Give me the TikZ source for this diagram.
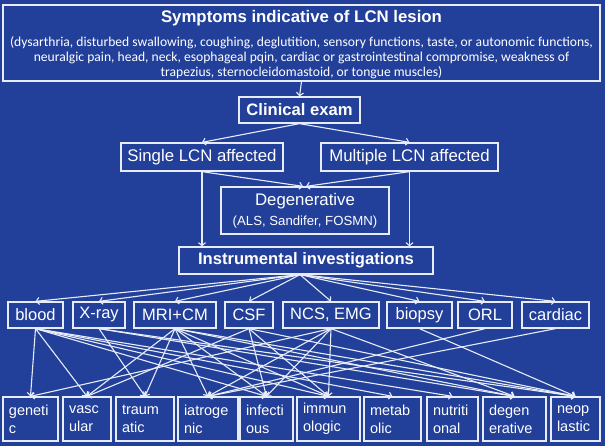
\documentclass[tikz,border=0pt]{standalone}
\usepackage{fontspec}
\setmainfont{Liberation Sans}
\newfontfamily\calibri{Carlito}
\usetikzlibrary{arrows.meta,positioning}
\definecolor{slideblue}{RGB}{34,64,154}
\definecolor{linewhite}{RGB}{232,236,248}

\begin{document}
\begin{tikzpicture}[
    x=1pt, y=-1pt,
    >={Straight Barb[length=3pt,width=7pt]},
    every node/.style={text=white},
    base/.style={rectangle, draw=linewhite, line width=1.3pt, inner sep=0pt, align=center},
    head/.style={base, font=\fontsize{16.6}{19}\selectfont\bfseries},
    box/.style={base, font=\fontsize{16.8}{19}\selectfont},
    test/.style={base, minimum height=26pt, font=\fontsize{16.5}{19}\selectfont},
    cause/.style={base, minimum height=44pt, align=left, inner xsep=6pt, font=\fontsize{14.5}{18}\selectfont},
    dep/.style={->, linewhite, line width=1.1pt}
  ]

  \fill[slideblue] (0,0) rectangle (605,446);
  \useasboundingbox (0,0) rectangle (605,446);

  % top of the chart
  \node (symptoms)   [base, minimum width=597pt, minimum height=76pt] at (301.5,43) {};
  \node (symtitle)   [font=\fontsize{16.8}{19}\selectfont\bfseries] at (301.5,18)
                                                         {Symptoms indicative of LCN lesion};
  \node (symlist)    [align=center, font=\calibri\fontsize{13.6}{15}\selectfont] at (301.5,58)
                                                         {(dysarthria, disturbed swallowing, coughing, deglutition, sensory functions, taste, or autonomic functions,\\
                                                          neuralgic pain, head, neck, esophageal pqin, cardiac or gastrointestinal compromise, weakness of\\
                                                          trapezius, sternocleidomastoid, or tongue muscles)};

  \node (clinical)   [head, minimum width=121pt, minimum height=26pt] at (299.5,110) {Clinical exam};

  \node (single)     [box, minimum width=162pt, minimum height=28pt] at (202,157)    {Single LCN affected};
  \node (multiple)   [box, minimum width=177pt, minimum height=28pt] at (409.5,157)  {Multiple LCN affected};

  \node (degen)      [box, minimum width=168pt, minimum height=47pt] at (305,210.5)
                                                         {Degenerative\\[1pt]
                                                          {\fontsize{13.2}{15}\selectfont (ALS, Sandifer, FOSMN)}};

  \node (instr)      [head, minimum width=254pt, minimum height=27pt] at (306,260.5) {Instrumental investigations};
  \coordinate (fan) at ([xshift=-6pt]instr.south);

  % investigations
  \node (blood)      [test, minimum width=55pt] at (35.5,315)  {blood};
  \node (xray)       [test, minimum width=52pt] at (99,315)    {X-ray};
  \node (mri)        [test, minimum width=82pt] at (175,315)   {MRI+CM};
  \node (csf)        [test, minimum width=48pt] at (249,315)   {CSF};
  \node (ncs)        [test, minimum width=96pt] at (331,315)   {NCS, EMG};
  \node (biopsy)     [test, minimum width=65pt] at (419.5,315) {biopsy};
  \node (orl)        [test, minimum width=54pt] at (485,315)   {ORL};
  \node (cardiac)    [test, minimum width=67pt] at (555.5,315) {cardiac};

  % causes
  \node (genetic)    [cause, text width=43pt] at (30.5,419)  {geneti\\c};
  \node (vascular)   [cause, text width=36pt] at (87,419)    {vasc\\ular};
  \node (traumatic)  [cause, text width=46pt] at (145,419)   {traum\\atic};
  \node (iatrogenic) [cause, text width=48pt] at (208,419)   {iatroge\\nic};
  \node (infectious) [cause, text width=41pt] at (266.5,419) {infecti\\ous};
  \node (immuno)     [cause, text width=51pt] at (328.5,419) {immun\\ologic};
  \node (metabolic)  [cause, text width=45pt] at (392.5,419) {metab\\olic};
  \node (nutrition)  [cause, text width=39pt] at (452.5,419) {nutriti\\onal};
  \node (degenerate) [cause, text width=51pt] at (514.5,419) {degen\\erative};
  \node (neoplastic) [cause, text width=37pt] at (575.5,419) {neop\\lastic};

  \draw[dep] (symptoms.south) -- (clinical.north);

  \draw[dep] (clinical.south) -- (single.north);
  \draw[dep] (clinical.south) -- (multiple.north);

  \draw[dep] (single.south)   -- ([xshift=-2pt]degen.north);
  \draw[dep] (multiple.south) -- ([xshift=1pt]degen.north);
  \draw[dep] (single.south)   -- (single.south |- instr.north);
  \draw[dep] (multiple.south) -- (multiple.south |- instr.north);

  \foreach \t in {blood,xray,mri,csf,ncs,biopsy,orl,cardiac}
    \draw[dep] (fan) -- (\t.north);

  % investigations to causes
  \foreach \t in {genetic,vascular,infectious,immuno,metabolic,nutrition}
    \draw[dep] (blood.south) -- (\t.north);
  \foreach \t in {traumatic,degenerate,neoplastic}
    \draw[dep] (xray.south) -- (\t.north);
  \foreach \t in {vascular,traumatic,iatrogenic,infectious,immuno,degenerate,neoplastic}
    \draw[dep] (mri.south) -- (\t.north);
  \foreach \t in {vascular,infectious,immuno,neoplastic}
    \draw[dep] (csf.south) -- (\t.north);
  \foreach \t in {genetic,iatrogenic,infectious,immuno,degenerate}
    \draw[dep] (ncs.south) -- (\t.north);
  \draw[dep] (biopsy.south)  -- (neoplastic.north);
  \draw[dep] (orl.south)     -- (iatrogenic.north);
  \draw[dep] (cardiac.south) -- (iatrogenic.north);
\end{tikzpicture}
\end{document}
